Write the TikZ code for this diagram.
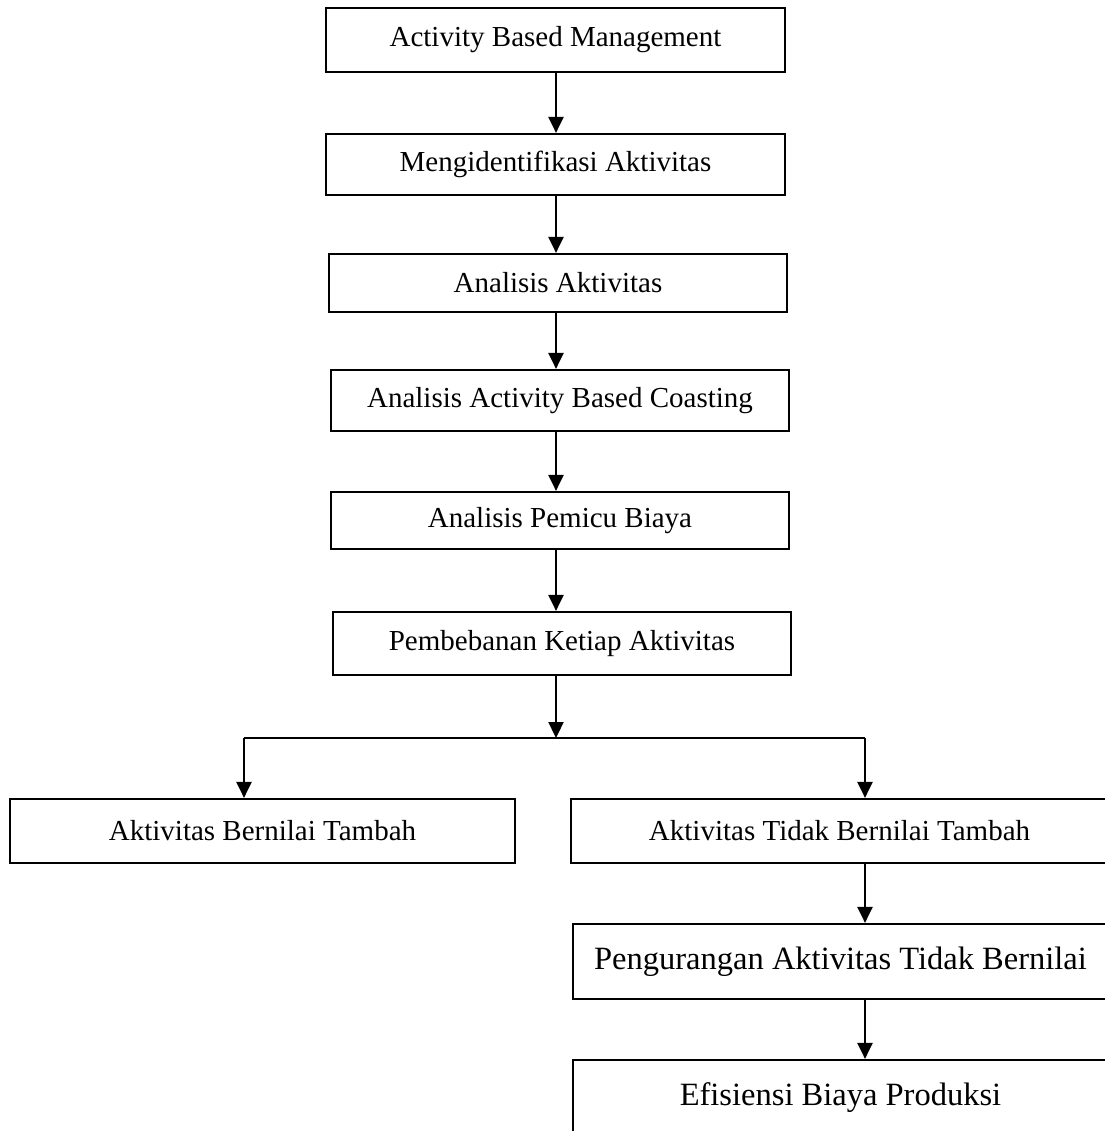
\documentclass[tikz,border=0pt]{standalone}
\usepackage{fontspec}
\setmainfont{Liberation Serif}
\usetikzlibrary{arrows.meta}
\tikzset{
  stepbox/.style={draw,line width=1.25pt,inner sep=0pt,align=center,
                  font=\fontsize{16.5}{19}\selectfont},
  bigbox/.style={stepbox,font=\fontsize{18.5}{22}\selectfont},
  flow/.style={-{Triangle[length=3.2mm,width=3mm]},line width=1.3pt},
  branchline/.style={line width=1.25pt},
}
\begin{document}
\begin{tikzpicture}[x=.2mm,y=-.2mm]
  \useasboundingbox (0,0) rectangle (1105,1131);
  \clip (0,0) rectangle (1105,1131);

  \node[stepbox,minimum width=91.8mm,minimum height=12.8mm] (abm) at (555.5,40)
    {Activity Based Management};
  \node[stepbox,minimum width=91.8mm,minimum height=12.2mm] (ident) at (555.5,164.5)
    {Mengidentifikasi Aktivitas};
  \node[stepbox,minimum width=91.6mm,minimum height=11.6mm] (analisis) at (558,283)
    {Analisis Aktivitas};
  \node[stepbox,minimum width=91.6mm,minimum height=12.2mm] (abc) at (560,400.5)
    {Analisis Activity Based Coasting};
  \node[stepbox,minimum width=91.6mm,minimum height=11.4mm] (pemicu) at (560,520.5)
    {Analisis Pemicu Biaya};
  \node[stepbox,minimum width=91.6mm,minimum height=12.6mm] (beban) at (562,643.5)
    {Pembebanan Ketiap Aktivitas};

  \node[stepbox,minimum width=101mm,minimum height=12.8mm] (nilai) at (262.5,831)
    {Aktivitas Bernilai Tambah};
  \node[stepbox,minimum width=107.4mm,minimum height=12.8mm] (tidak) at (839.5,831)
    {Aktivitas Tidak Bernilai Tambah};
  \node[bigbox,minimum width=107mm,minimum height=15mm] (kurang) at (840.5,961.5)
    {Pengurangan Aktivitas Tidak Bernilai};
  \node[bigbox,minimum width=107mm,minimum height=15.2mm] (efisien) at (840.5,1098)
    {Efisiensi Biaya Produksi};

  \coordinate (axis) at (556,0);
  \draw[flow] (axis |- abm.south) -- (axis |- ident.north);
  \draw[flow] (axis |- ident.south) -- (axis |- analisis.north);
  \draw[flow] (axis |- analisis.south) -- (axis |- abc.north);
  \draw[flow] (axis |- abc.south) -- (axis |- pemicu.north);
  \draw[flow] (axis |- pemicu.south) -- (axis |- beban.north);

  \coordinate (split) at (556,738);
  \coordinate (left) at (244,738);
  \coordinate (right) at (865,738);
  \draw[flow] (axis |- beban.south) -- (split);
  \draw[branchline] (left) -- (right);
  \draw[flow] (left) -- (left |- nilai.north);
  \draw[flow] (right) -- (right |- tidak.north);
  \draw[flow] (right |- tidak.south) -- (right |- kurang.north);
  \draw[flow] (right |- kurang.south) -- (right |- efisien.north);
\end{tikzpicture}
\end{document}
